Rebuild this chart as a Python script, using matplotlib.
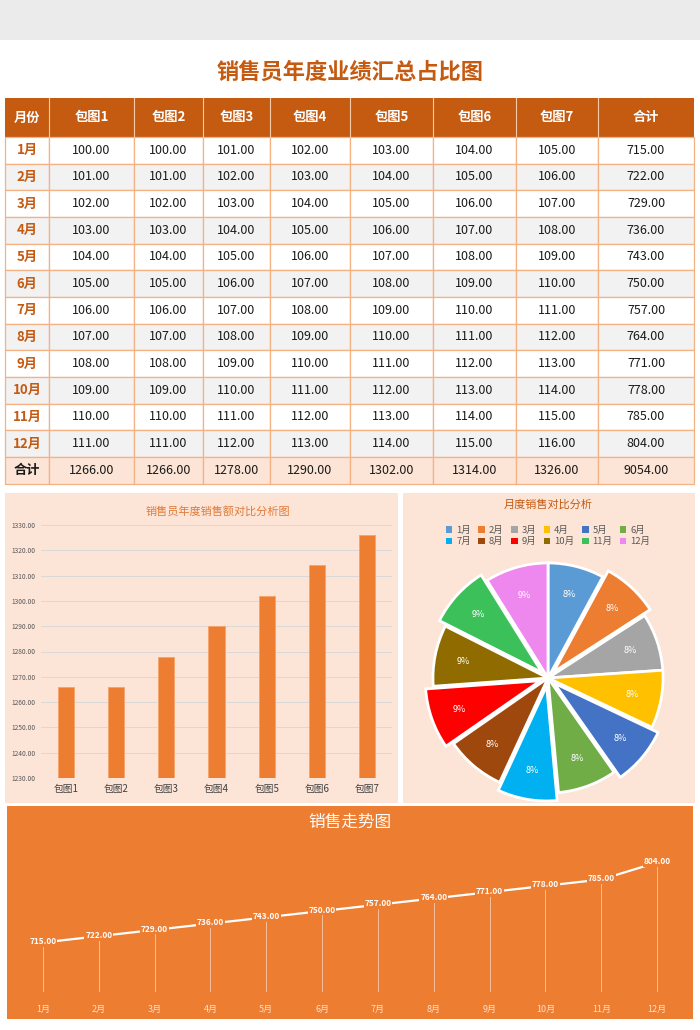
import numpy as np
import matplotlib
matplotlib.use("Agg")
import matplotlib.pyplot as plt
from matplotlib.patches import Rectangle, Patch

plt.rcParams['font.family'] = ['Noto Sans CJK SC', 'DejaVu Sans']

# 数据
months = ['1月', '2月', '3月', '4月', '5月', '6月', '7月', '8月', '9月', '10月', '11月', '12月']
packs = ['包图1', '包图2', '包图3', '包图4', '包图5', '包图6', '包图7']
month_values = [
    [100, 100, 101, 102, 103, 104, 105],
    [101, 101, 102, 103, 104, 105, 106],
    [102, 102, 103, 104, 105, 106, 107],
    [103, 103, 104, 105, 106, 107, 108],
    [104, 104, 105, 106, 107, 108, 109],
    [105, 105, 106, 107, 108, 109, 110],
    [106, 106, 107, 108, 109, 110, 111],
    [107, 107, 108, 109, 110, 111, 112],
    [108, 108, 109, 110, 111, 112, 113],
    [109, 109, 110, 111, 112, 113, 114],
    [110, 110, 111, 112, 113, 114, 115],
    [111, 111, 112, 113, 114, 115, 116],
]
month_totals = [715, 722, 729, 736, 743, 750, 757, 764, 771, 778, 785, 804]
pack_totals = [1266, 1266, 1278, 1290, 1302, 1314, 1326]
grand_total = 9054

pie_colors = ['#5b9bd5', '#ed7d31', '#a5a5a5', '#ffc000', '#4472c4', '#70ad47',
              '#00b0f0', '#9e480e', '#ff0000', '#8f6b00', '#3cc05a', '#ee88ee']
exploded = [2, 5, 7, 9, 11]

W, H = 700, 1030
fig = plt.figure(figsize=(W / 100, H / 100), dpi=100)
fig.patch.set_facecolor('white')

bg = fig.add_axes([0, 0, 1, 1])
bg.set_xlim(0, W)
bg.set_ylim(H, 0)
bg.axis('off')


def px_axes(x0, y0, x1, y1):
    a = fig.add_axes([x0 / W, 1 - y1 / H, (x1 - x0) / W, (y1 - y0) / H])
    a.set_facecolor('none')
    return a


# 顶部灰条
bg.add_patch(Rectangle((0, 0), W, 40, color='#ebebeb', lw=0))

# 标题
bg.text(350, 72, '销售员年度业绩汇总占比图', ha='center', va='center',
        fontsize=16, fontweight='bold', color='#c55a11')

# 表格
col_x = [5, 49, 134, 203, 270, 350, 433, 516, 598, 694]
head_top, head_bot = 98, 137
row_h = (457 - 137) / 12
border = '#f4b183'

bg.add_patch(Rectangle((col_x[0], head_top), col_x[-1] - col_x[0], head_bot - head_top,
                       facecolor='#c55a11', edgecolor='none'))
headers = ['月份'] + packs + ['合计']
for j, h in enumerate(headers):
    cx = (col_x[j] + col_x[j + 1]) / 2
    bg.text(cx, (head_top + head_bot) / 2, h, ha='center', va='center',
            fontsize=9.5, fontweight='bold', color='white')
    if j > 0:
        bg.plot([col_x[j], col_x[j]], [head_top, head_bot], color='#f8cbad', lw=0.8)

rows = [[m] + ['%.2f' % v for v in vals] + ['%.2f' % t]
        for m, vals, t in zip(months, month_values, month_totals)]
rows.append(['合计'] + ['%.2f' % v for v in pack_totals] + ['%.2f' % grand_total])

for i, r in enumerate(rows):
    y0 = head_bot + i * row_h
    if i == 12:
        fill = '#fce4d6'
    elif i % 2 == 0:
        fill = 'white'
    else:
        fill = '#f2f2f2'
    for j, txt in enumerate(r):
        bg.add_patch(Rectangle((col_x[j], y0), col_x[j + 1] - col_x[j], row_h,
                               facecolor=fill, edgecolor=border, lw=0.9))
        cx = (col_x[j] + col_x[j + 1]) / 2
        if j == 0:
            color = '#1a1a1a' if i == 12 else '#c55a11'
            bg.text(cx, y0 + row_h / 2, txt, ha='center', va='center',
                    fontsize=9.5, fontweight='bold', color=color)
        else:
            bg.text(cx, y0 + row_h / 2, txt, ha='center', va='center',
                    fontsize=9, color='#1a1a1a')

# 面板背景
bg.add_patch(Rectangle((5, 493), 393, 310, color='#fce4d6', lw=0))
bg.add_patch(Rectangle((403, 493), 292, 310, color='#fce4d6', lw=0))
bg.add_patch(Rectangle((7, 806), 686, 213, color='#ed7d31', lw=0))

# 柱状图
bg.text(218, 511, '销售员年度销售额对比分析图', ha='center', va='center',
        fontsize=8, color='#e07b39')
ax1 = px_axes(41, 525, 392, 778)
xpos = np.arange(len(packs))
ax1.bar(xpos, pack_totals, width=0.32, color='#ed7d31', edgecolor='#f4a46a', lw=0.6, zorder=3)
ax1.set_ylim(1230, 1330)
ax1.set_xlim(-0.5, len(packs) - 0.5)
ax1.set_yticks(np.arange(1230, 1331, 10))
ax1.set_yticklabels(['%.2f' % t for t in np.arange(1230, 1331, 10)], fontsize=4.8, color='#595959')
ax1.set_xticks(xpos)
ax1.set_xticklabels(packs, fontsize=7, color='#404040')
ax1.yaxis.grid(True, color='#d9d9d9', lw=0.7, zorder=0)
ax1.tick_params(length=0, pad=4)
for s in ax1.spines.values():
    s.set_visible(False)

# 饼图
bg.text(548, 505, '月度销售对比分析', ha='center', va='center',
        fontsize=8, color='#c55a11')
ax2 = px_axes(548 - 130, 678 - 130, 548 + 130, 678 + 130)
explode = [0.07 if (k + 1) in exploded else 0 for k in range(12)]
wedges, texts, autotexts = ax2.pie(
    month_totals, colors=pie_colors, explode=explode, startangle=90, counterclock=False,
    autopct='%.0f%%', pctdistance=0.75,
    wedgeprops=dict(edgecolor='white', linewidth=2),
    textprops=dict(color='white', fontsize=6.5))
ax2.set_xlim(-1.13, 1.13)
ax2.set_ylim(-1.13, 1.13)
ax2.set_aspect('equal')

handles = [Patch(facecolor=c, edgecolor='none', label=m) for m, c in zip(months, pie_colors)]
order = []
for k in range(6):
    order += [k, k + 6]
leg = bg.legend([handles[k] for k in order], [months[k] for k in order],
                ncol=6, loc='center', bbox_to_anchor=(548, 536), bbox_transform=bg.transData,
                frameon=False, fontsize=6.8, handlelength=0.7, handleheight=0.7,
                handletextpad=0.4, columnspacing=0.8, labelspacing=0.25)
for t in leg.get_texts():
    t.set_color('#595959')

# 折线图
bg.text(350, 822, '销售走势图', ha='center', va='center', fontsize=12, color='white')
ax3 = px_axes(15, 830, 685, 992)
mx = np.arange(len(months))
ax3.vlines(mx, 660, month_totals, color='#f8cbad', lw=0.6, zorder=1)
ax3.plot(mx, month_totals, color='white', lw=1.6, zorder=2)
for x, v in zip(mx, month_totals):
    ax3.text(x, v + 1, '%.2f' % v, ha='center', va='center', fontsize=6, color='white',
             fontweight='bold', zorder=4,
             bbox=dict(facecolor='#ed7d31', edgecolor='none', pad=0.6))
ax3.set_xlim(-0.5, len(months) - 0.5)
ax3.set_ylim(660, 840)
ax3.set_yticks([])
ax3.set_xticks(mx)
ax3.set_xticklabels(months, fontsize=6.5, color='#fde0cc')
ax3.tick_params(length=0, pad=9)
for s in ax3.spines.values():
    s.set_visible(False)

fig.savefig('out.png', dpi=100, facecolor='white')
